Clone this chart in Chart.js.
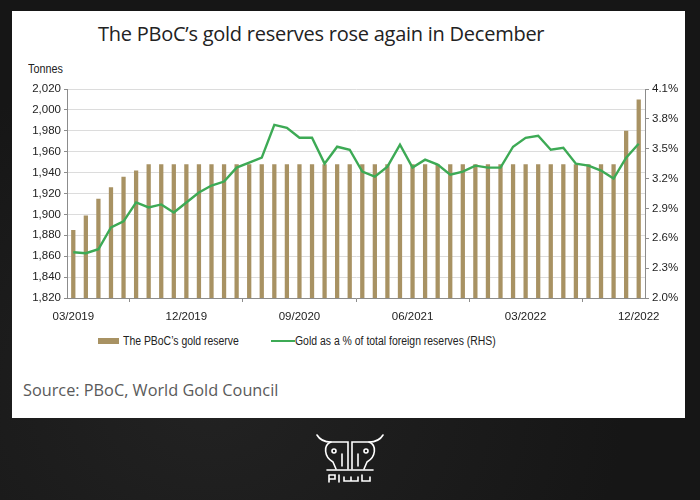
<!DOCTYPE html>
<html>
<head>
<meta charset="utf-8">
<script src="https://cdn.jsdelivr.net/npm/chart.js@4.4.0/dist/chart.umd.min.js"></script>
<style>
  html, body { margin: 0; padding: 0; }
  body {
    width: 700px; height: 500px; overflow: hidden; position: relative;
    background: radial-gradient(ellipse at 30% 80%, #222 0%, #161616 60%), #161616;
  }
  #panel { position: absolute; left: 12px; top: 11px; width: 673px; height: 407px; background: #fff; }
  #title {
    position: absolute; left: 98px; top: 20px; white-space: nowrap;
    font-family: "Open Sans", sans-serif; font-size: 20px; font-weight: 500; color: #222;
    letter-spacing: -0.25px;
  }
  #unit {
    position: absolute; left: 28px; top: 62px;
    font-family: "Liberation Sans", Arial, sans-serif; font-size: 12px; color: #222;
    transform: scaleX(0.9); transform-origin: left;
  }
  #wrap { position: absolute; left: 12px; top: 55px; width: 673px; height: 275px; }
  #legend {
    position: absolute; left: 0; top: 334px; width: 700px; height: 14px;
    font-family: "Liberation Sans", Arial, sans-serif; font-size: 12px; color: #222;
  }
  #legend span { position: absolute; white-space: nowrap; }
  #legend .txt { top: 0; transform: scaleX(0.87); transform-origin: left; }
  #source {
    position: absolute; left: 23px; top: 379px; white-space: nowrap;
    font-family: "Open Sans", sans-serif; font-size: 16.3px; font-weight: 400; color: #5a5a5a;
  }
  #logo { position: absolute; left: 314px; top: 432px; }
</style>
</head>
<body>
<div id="panel"></div>
<div id="title">The PBoC’s gold reserves rose again in December</div>
<div id="unit">Tonnes</div>
<div id="wrap"><canvas id="goldChart"></canvas></div>
<div id="legend"></div>
<div id="source">Source: PBoC, World Gold Council</div>
<svg id="logo" width="72" height="52" viewBox="0 0 72 52" fill="none" stroke="#fff" stroke-width="1.6" stroke-linecap="round">
  <path d="M3 3 Q7 10 17 10 L34 10 L34 37"/>
  <path d="M69 3 Q65 10 55 10 L38 10 L38 37"/>
  <path d="M17 10 C9 13 10 25 19 30 L22 37"/>
  <path d="M55 10 C63 13 62 25 53 30 L50 37"/>
  <circle cx="20" cy="19" r="2"/><circle cx="52" cy="19" r="2"/>
  <path d="M28 22 L28 34 M44 22 L44 34"/>
  <path d="M13 38 L59 38"/>
  <path d="M15 43 L15 50 M15 43 L21 43 L21 47 L15 47 M25 43 L25 50"/>
  <path d="M30 45 L30 49 L44 49 L44 45 M37 45 L37 49 M48 43 L48 49 L56 49 L56 45"/>
</svg>

<script>
// months shown on the category axis (03/2019 .. 12/2022)
const months = [
  "03/2019","04/2019","05/2019","06/2019","07/2019","08/2019","09/2019","10/2019","11/2019","12/2019",
  "01/2020","02/2020","03/2020","04/2020","05/2020","06/2020","07/2020","08/2020","09/2020","10/2020","11/2020","12/2020",
  "01/2021","02/2021","03/2021","04/2021","05/2021","06/2021","07/2021","08/2021","09/2021","10/2021","11/2021","12/2021",
  "01/2022","02/2022","03/2022","04/2022","05/2022","06/2022","07/2022","08/2022","09/2022","10/2022","11/2022","12/2022"
];

// PBoC gold reserve, tonnes
const goldTonnes = [
  1885, 1899, 1915, 1926, 1936, 1942, 1948, 1948, 1948, 1948,
  1948, 1948, 1948, 1948, 1948, 1948, 1948, 1948, 1948, 1948, 1948, 1948,
  1948, 1948, 1948, 1948, 1948, 1948, 1948, 1948, 1948, 1948, 1948, 1948,
  1948, 1948, 1948, 1948, 1948, 1948, 1948, 1948, 1948, 1948, 1980, 2010
];

// gold as % of total foreign reserves (RHS)
const goldShare = [
  2.46, 2.45, 2.49, 2.71, 2.77, 2.96, 2.91, 2.94, 2.86, 2.96,
  3.06, 3.13, 3.17, 3.31, 3.36, 3.41, 3.74, 3.71, 3.61, 3.61, 3.35, 3.52,
  3.49, 3.27, 3.22, 3.32, 3.54, 3.31, 3.39, 3.34, 3.24, 3.27, 3.33, 3.31,
  3.31, 3.52, 3.61, 3.63, 3.49, 3.51, 3.35, 3.33, 3.28, 3.20, 3.41, 3.55
];

const tickFont = { family: "'Liberation Sans', Arial, sans-serif", size: 11.5 };
const barColor = "#a89263";
const lineColor = "#3daa55";
const axisColor = "#8c8c8c";

const goldChart = new Chart(document.getElementById("goldChart"), {
  type: "bar",
  data: {
    labels: months,
    datasets: [
      {
        type: "line",
        label: "Gold as a % of total foreign reserves (RHS)",
        data: goldShare,
        yAxisID: "y1",
        borderColor: lineColor,
        backgroundColor: lineColor,
        borderWidth: 2.4,
        pointRadius: 0,
        tension: 0,
        order: 0
      },
      {
        label: "The PBoC’s gold reserve",
        data: goldTonnes,
        yAxisID: "y",
        backgroundColor: barColor,
        categoryPercentage: 1,
        barPercentage: 0.34,
        order: 1
      }
    ]
  },
  options: {
    responsive: true,
    maintainAspectRatio: false,
    animation: false,
    layout: { padding: { top: 34, left: 0, right: 0, bottom: 0 } },
    plugins: { legend: { display: false }, tooltip: { enabled: false } },
    scales: {
      x: {
        offset: true,
        grid: { display: true, drawOnChartArea: false, offset: true, tickLength: 4, color: axisColor },
        border: { color: axisColor },
        ticks: {
          autoSkip: false, maxRotation: 0, padding: 8, color: "#222", font: tickFont,
          callback: function(value, index) { return index % 9 === 0 ? months[index] : null; }
        },
        afterFit: function(scale) { scale.height = 32; }
      },
      y: {
        position: "left",
        min: 1820, max: 2020,
        grid: { color: "#dcdcdc", tickColor: axisColor, tickLength: 3 },
        border: { color: axisColor },
        ticks: {
          stepSize: 20, padding: 3, color: "#222", font: tickFont,
          callback: function(v) { return v.toLocaleString("en-US"); }
        },
        afterFit: function(scale) { scale.width = 55; }
      },
      y1: {
        position: "right",
        min: 2.0, max: 4.1,
        grid: { drawOnChartArea: false, color: axisColor, tickLength: 4 },
        border: { color: axisColor },
        ticks: {
          stepSize: 0.3, padding: 3, color: "#222", font: tickFont,
          callback: function(v) { return v.toFixed(1) + "%"; }
        },
        afterFit: function(scale) { scale.width = 40; }
      }
    }
  }
});

// legend built from the chart datasets (bar first, then line), placed like the original
const legendEl = document.getElementById("legend");
const legendSlots = [
  { ds: goldChart.data.datasets[1], sw: 98, tx: 123 },
  { ds: goldChart.data.datasets[0], sw: 271, tx: 295 }
];
legendSlots.forEach(function(s) {
  const sw = document.createElement("span");
  if (s.ds.type === "line") {
    sw.style.cssText = "left:" + s.sw + "px;top:6px;width:24px;height:2px;background:" + s.ds.borderColor;
  } else {
    sw.style.cssText = "left:" + s.sw + "px;top:4px;width:21px;height:6px;background:" + s.ds.backgroundColor;
  }
  const tx = document.createElement("span");
  tx.className = "txt";
  tx.style.left = s.tx + "px";
  tx.textContent = s.ds.label;
  legendEl.appendChild(sw);
  legendEl.appendChild(tx);
});
</script>
</body>
</html>
